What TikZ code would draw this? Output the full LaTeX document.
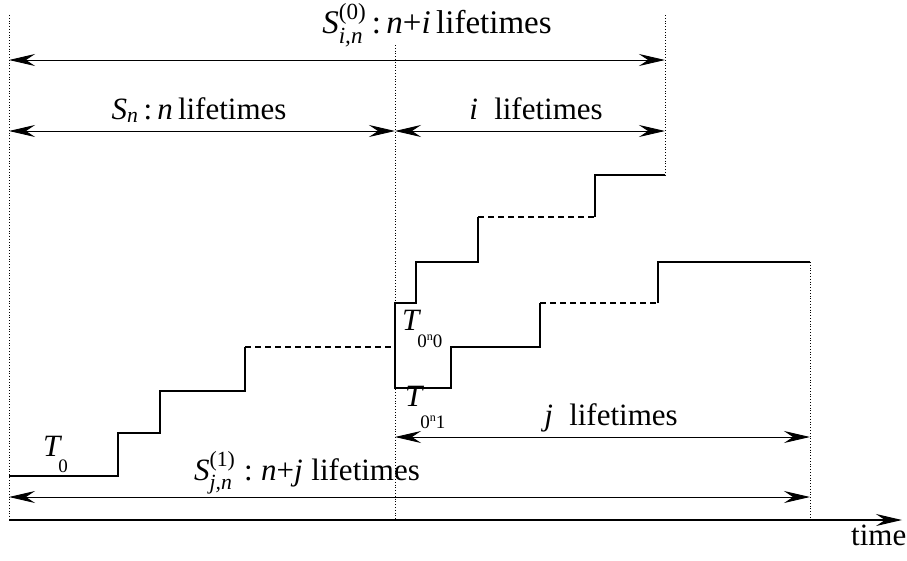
\documentclass[tikz,border=0pt]{standalone}
\usepackage{fontspec}
\setmainfont{Liberation Serif}
\usepackage{amsmath}
\usetikzlibrary{arrows.meta}
\newcommand\mi[1]{\textit{#1}}
\newcommand\Tlab[2]{\mi{T}\kern-4pt\raisebox{-#1}{\fontsize{19}{19}\selectfont #2}}
\newcommand\tn{\raisebox{7pt}{\fontsize{12}{12}\selectfont n}}
\begin{document}
\begin{tikzpicture}[x=1pt,y=-1pt,
  lbl/.style={font=\fontsize{31}{36}\selectfont, inner sep=0pt, anchor=base},
  tlbl/.style={font=\fontsize{31}{36}\selectfont, inner sep=0pt, anchor=base west},
  tip/.tip={Stealth[length=26pt,width=12pt,inset=9pt]},
  dim/.style={line width=0.9pt,tip-tip},
  guide/.style={dotted, line width=0.8pt},
  stair/.style={line width=1.1pt, line join=miter},
  dashseg/.style={line width=1.1pt, dash pattern=on 6pt off 4pt}]
\useasboundingbox (0,0) rectangle (907,560);

% guide coordinates
\coordinate (gA1) at (9,15);   \coordinate (gA2) at (9,520);
\coordinate (gB1) at (395,45); \coordinate (gB2) at (395,520);
\coordinate (gC1) at (665,15); \coordinate (gC2) at (665,175);
\coordinate (gD1) at (810,262);\coordinate (gD2) at (810,520);
\draw[guide] (gA1) -- (gA2);
\draw[guide] (gB1) -- (gB2);
\draw[guide] (gC1) -- (gC2);
\draw[guide] (gD1) -- (gD2);

% dimension arrows
\coordinate (a1) at (9,60);   \coordinate (a2) at (665,60);
\coordinate (b1) at (9,131);  \coordinate (b2) at (395,131); \coordinate (b3) at (665,131);
\coordinate (c1) at (395,437);\coordinate (c2) at (810,437);
\coordinate (d1) at (9,497);  \coordinate (d2) at (810,497);
\coordinate (t1) at (9,520);  \coordinate (t2) at (902,520);
\draw[dim] (a1) -- (a2);
\draw[dim] (b1) -- (b2);
\draw[dim] (b2) -- (b3);
\draw[dim] (c1) -- (c2);
\draw[dim] (d1) -- (d2);
\draw[line width=1.2pt,-tip] (t1) -- (t2);

% labels
\node[lbl, font=\fontsize{33}{38}\selectfont] (ltop) at (437,33) {$\mi{S}^{\text{(0)}}_{\mi{i,n}}$\,:\,\mi{n}+\mi{i}\,lifetimes};
\node[lbl] (lsn) at (199,119) {$\mi{S}_{\mi{n}}$\,:\,\mi{n}\,lifetimes};
\node[lbl] (li) at (536,119) {\mi{i}\; lifetimes};
\node[lbl] (lj) at (611,425) {\mi{j}\; lifetimes};
\node[lbl] (lbot) at (307,480) {$\mi{S}^{\text{(1)}}_{\mi{j,n}}$\;:\;\mi{n}+\mi{j}\;lifetimes};
\node[lbl, anchor=base west] (ltime) at (851,545) {time};
\node[tlbl] (T0) at (43,456) {\Tlab{16pt}{0}};
\node[tlbl] (T00) at (402,330) {\Tlab{17pt}{0\tn0}};
\node[tlbl] (T01) at (405,406) {\Tlab{22pt}{0\tn1}};

% staircases
\draw[stair] (9,476) -- (118,476) -- (118,433) -- (160,433) -- (160,391) -- (245,391) -- (245,347);
\draw[dashseg] (245,347) -- (395,347);
\draw[stair] (478,217) -- (478,262) -- (416,262) -- (416,303) -- (395,303) -- (395,388) -- (451,388) -- (451,347) -- (540,347) -- (540,303);
\draw[dashseg] (540,303) -- (658,303);
\draw[stair] (658,303) -- (658,262) -- (810,262);
\draw[dashseg] (478,217) -- (595,217);
\draw[stair] (595,217) -- (595,175) -- (665,175);
\end{tikzpicture}
\end{document}
